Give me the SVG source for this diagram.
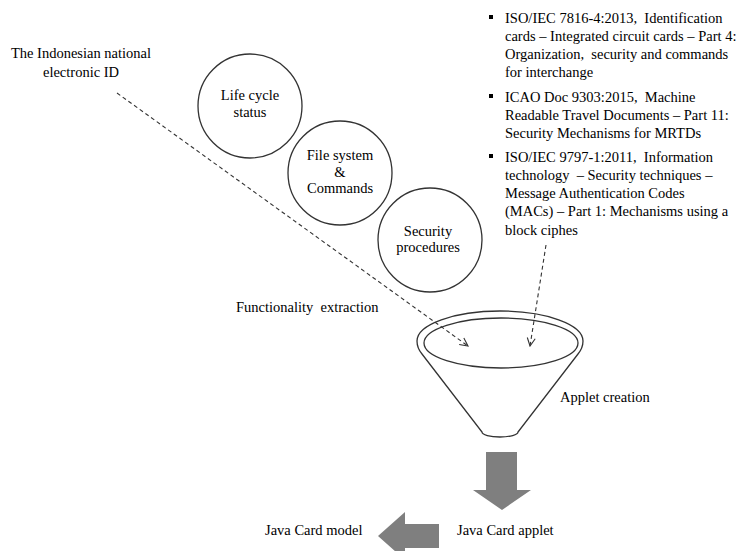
<svg xmlns="http://www.w3.org/2000/svg" width="747" height="551" viewBox="0 0 747 551">
<style>
text{font-family:"Liberation Serif","Times New Roman",serif;font-size:14.5px;fill:#000;white-space:pre}
.c{text-anchor:middle}
.node{fill:#fff;stroke:#333;stroke-width:1.3}
.dash{fill:none;stroke:#333;stroke-width:1.1;stroke-dasharray:4 3}
.fun{fill:#fff;stroke:#333;stroke-width:1.3}
.big{fill:#7f7f7f}
</style>
<defs>
<marker id="open" viewBox="0 0 10 10" refX="9" refY="5" markerWidth="10" markerHeight="10" markerUnits="userSpaceOnUse" orient="auto">
<path d="M1,1 L9,5 L1,9" fill="none" stroke="#333" stroke-width="1.1"/>
</marker>
</defs>
<rect width="747" height="551" fill="#fff"/>
<g id="source">
<text class="c" x="81" y="58">The Indonesian national</text>
<text class="c" x="81" y="77">electronic ID</text>
</g>
<g id="life-cycle">
<circle class="node" cx="250" cy="106" r="52"/>
<text class="c" x="250" y="100">Life cycle</text>
<text class="c" x="250" y="117">status</text>
</g>
<g id="file-system">
<circle class="node" cx="340" cy="173" r="52"/>
<text class="c" x="340" y="160">File system</text>
<text class="c" x="340" y="177">&amp;</text>
<text class="c" x="340" y="193">Commands</text>
</g>
<g id="security">
<circle class="node" cx="430" cy="240" r="52"/>
<text class="c" x="428" y="236">Security</text>
<text class="c" x="428" y="252">procedures</text>
</g>
<g id="standards">
<g fill="#000">
<rect x="489" y="15" width="4" height="4"/>
<rect x="489" y="94" width="4" height="4"/>
<rect x="489" y="154" width="4" height="4"/>
</g>
<text x="505" y="23">ISO/IEC 7816-4:2013,  Identification</text>
<text x="505" y="41">cards – Integrated circuit cards – Part 4:</text>
<text x="505" y="59">Organization,  security and commands</text>
<text x="505" y="77">for interchange</text>
<text x="505" y="102">ICAO Doc 9303:2015,  Machine</text>
<text x="505" y="120">Readable Travel Documents – Part 11:</text>
<text x="505" y="138">Security Mechanisms for MRTDs</text>
<text x="505" y="162">ISO/IEC 9797-1:2011,  Information</text>
<text x="505" y="180">technology  – Security techniques –</text>
<text x="505" y="198">Message Authentication Codes</text>
<text x="505" y="216">(MACs) – Part 1: Mechanisms using a</text>
<text x="505" y="235">block ciphes</text>
</g>
<g id="funnel">
<path class="fun" d="M417,341 A83,30 0 0 1 583,341 Q583,348 578,354 L518,432 A18,5 0 0 1 482,432 L422,354 Q417,348 417,341 Z"/>
<ellipse class="fun" cx="501" cy="343" rx="77" ry="25"/>
<text x="560" y="402">Applet creation</text>
</g>
<g id="labels">
<text x="236" y="312">Functionality  extraction</text>
</g>
<g id="applet">
<text x="457" y="535">Java Card applet</text>
</g>
<g id="model">
<text x="265" y="535">Java Card model</text>
</g>
<g id="connectors">
<path class="dash" d="M117,93 L468,346" marker-end="url(#open)"/>
<path class="dash" d="M546,245 L530,346" marker-end="url(#open)"/>
<path class="big" d="M486,452 H517 V490 H531 L502,510 L473,490 H486 Z"/>
<path class="big" d="M439,524 V548 H405 V560 L378,536 L405,512 V524 Z"/>
</g>
</svg>
